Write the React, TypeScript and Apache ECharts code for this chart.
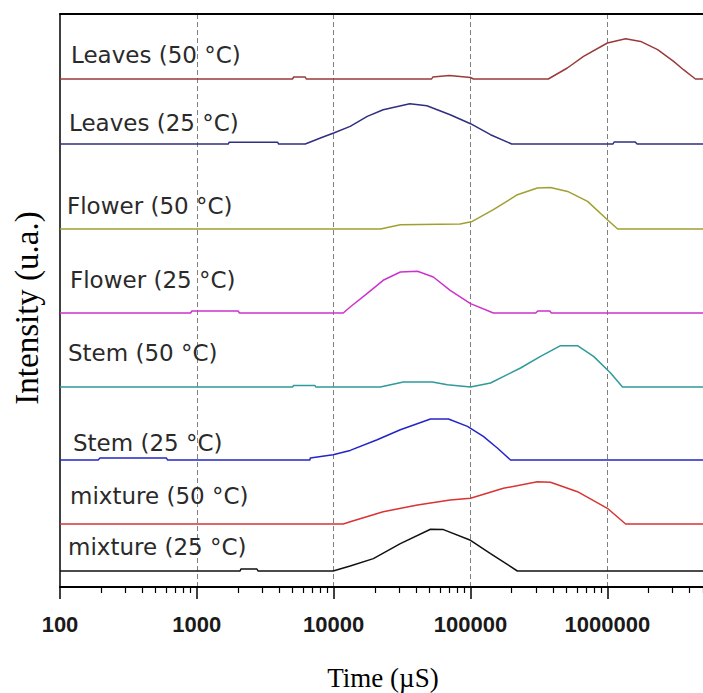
import React, { useEffect, useRef } from "react";
import * as echarts from "echarts";

// Series names (labels shown next to each trace)
const categories = [
  "Leaves (50 °C)",
  "Leaves (25 °C)",
  "Flower (50 °C)",
  "Flower (25 °C)",
  "Stem (50 °C)",
  "Stem (25 °C)",
  "mixture (50 °C)",
  "mixture (25 °C)",
];

// Vertical offset of each trace (arbitrary intensity units)
const offsets = [508, 443, 358, 274, 200, 127, 63, 16];

// Intensity traces: [time (µS), intensity]
const leaves50 = [[100, 0], [5000, 0], [5100, 2], [6200, 2], [6300, 0], [52000, 0], [53000, 2], [70000, 3.5], [100000, 1.5], [105000, 0], [370000, 0], [510000, 11], [670000, 22.6], [1000000, 36], [1360000, 40.3], [1750000, 37.6], [2330000, 29.3], [3050000, 17.6], [3600000, 9.3], [4400000, 0], [5000000, 0]];
const leaves25 = [[100, 0], [1700, 0], [1720, 1.7], [3900, 1.7], [3950, 0], [6200, 0], [8000, 6], [10000, 11], [13200, 17.6], [17600, 27.6], [23000, 34.3], [36000, 40.3], [48000, 38.3], [71000, 29.3], [100000, 20.3], [140000, 9.3], [200000, 0], [1100000, 0], [1120000, 2], [1600000, 2], [1650000, 0], [5000000, 0]];
const flower50 = [[100, 0], [22000, 0], [30700, 4.3], [84000, 5], [103000, 7.6], [147000, 19.3], [220000, 34.3], [308000, 41], [384000, 41.6], [512000, 37.6], [717000, 27.6], [1000000, 9.3], [1190000, 0], [5000000, 0]];
const flower25 = [[100, 0], [900, 0], [920, 2], [2000, 2], [2050, 0], [11750, 0], [13200, 6], [17600, 19.7], [23000, 32.7], [30700, 41], [41000, 41.7], [53500, 36], [71000, 22.7], [100000, 9.4], [147000, 0], [300000, 0], [310000, 2], [380000, 2], [390000, 0], [5000000, 0]];
const stem50 = [[100, 0], [5000, 0], [5100, 1.5], [7300, 1.5], [7400, 0], [21900, 0], [32300, 5], [52600, 5], [67800, 2.3], [100000, 0], [140000, 4], [232000, 19], [325000, 30.6], [455000, 41.3], [605000, 41.3], [793000, 30.6], [1056000, 14], [1290000, 0], [5000000, 0]];
const stem25 = [[100, 0], [190, 0], [196, 2], [600, 2], [610, 0], [6700, 0], [6750, 2], [9900, 5.3], [13200, 9.6], [20800, 20.3], [30700, 30.3], [51000, 41], [69000, 41], [95000, 33.6], [124000, 23.6], [157000, 12], [196000, 0], [5000000, 0]];
const mixture50 = [[100, 0], [11750, 0], [13200, 2.3], [23000, 12.3], [41000, 19], [71000, 24], [100000, 25.7], [174000, 35.7], [308000, 42.3], [384000, 41.7], [605000, 32.3], [1000000, 15.7], [1360000, 0], [5000000, 0]];
const mixture25 = [[100, 0], [2070, 0], [2100, 2], [2750, 2], [2800, 0], [9900, 0], [13200, 5], [19500, 12.4], [30700, 27.4], [51000, 41.7], [63400, 41.4], [100000, 30.7], [140000, 17.4], [220000, 0], [5000000, 0]];

const traces = [leaves50, leaves25, flower50, flower25, stem50, stem25, mixture50, mixture25];

const colors = ["#9B3A3A", "#2F2F80", "#A0A030", "#CC33CC", "#2E9A9A", "#2424C8", "#D93333", "#111111"];

// Label anchor positions (px)
const labelPos = [
  [71, 55],
  [69, 123],
  [67, 206],
  [70, 280],
  [68, 353],
  [73, 443],
  [70, 496],
  [68, 547],
];

const xMin = 100;
const xMax = 5000000;
const majorTicks = [100, 1000, 10000, 100000, 1000000];
const minorTicks: number[] = [];
majorTicks.forEach((d) => {
  for (let k = 2; k <= 9; k++) {
    if (d * k <= xMax) minorTicks.push(d * k);
  }
});

export default function App() {
  const ref = useRef<HTMLDivElement>(null);
  useEffect(() => {
    if (!ref.current) return;
    const chart = echarts.init(ref.current, undefined, { renderer: "svg" });
    const series = traces.map((tr, i) => ({
      name: categories[i],
      type: "line",
      xAxisIndex: 0,
      yAxisIndex: 0,
      showSymbol: false,
      symbol: "none",
      data: tr.map(([x, v]) => [x, offsets[i] + v]),
      lineStyle: { color: colors[i], width: 1.5 },
      itemStyle: { color: colors[i] },
      z: 3,
    }));
    const graphic: any[] = categories.map((c, i) => ({
      type: "text",
      x: labelPos[i][0],
      y: labelPos[i][1],
      z: 10,
      style: {
        text: c,
        font: "23px 'DejaVu Sans'",
        fill: "#2a2a2a",
        textAlign: "left",
        textVerticalAlign: "middle",
      },
    }));
    graphic.push({
      type: "text",
      x: 27,
      y: 308,
      rotation: Math.PI / 2,
      style: {
        text: "Intensity (u.a.)",
        font: "33px 'Liberation Serif'",
        fill: "#000",
        textAlign: "center",
        textVerticalAlign: "middle",
      },
    });
    graphic.push({
      type: "text",
      x: 383,
      y: 678,
      style: {
        text: "Time (µS)",
        font: "27px 'Liberation Serif'",
        fill: "#000",
        textAlign: "center",
        textVerticalAlign: "middle",
      },
    });
    chart.setOption({
      animation: false,
      backgroundColor: "#fff",
      grid: { left: 60, right: 0, top: 14, height: 573 },
      xAxis: [
        {
          type: "log",
          logBase: 10,
          min: xMin,
          max: xMax,
          position: "bottom",
          axisLine: { show: true, lineStyle: { color: "#000", width: 2 } },
          axisTick: { show: true, length: 12, lineStyle: { color: "#000", width: 1.5 } },
          axisLabel: {
            show: true,
            showMaxLabel: false,
            margin: 26,
            fontSize: 22,
            fontWeight: "bold",
            fontFamily: "'Liberation Sans'",
            color: "#1a1a1a",
            formatter: (v: number) => (v > xMax * 0.99 ? "" : String(Math.round(v))),
          },
          splitLine: {
            show: true,
            showMinLine: false,
            showMaxLine: false,
            lineStyle: { color: "#808080", width: 1, type: [5, 3] },
          },
        },
        {
          type: "log",
          logBase: 10,
          min: xMin,
          max: xMax,
          position: "bottom",
          axisLine: { show: false },
          axisTick: { show: true, length: 6, customValues: minorTicks, lineStyle: { color: "#000", width: 1.2 } },
          axisLabel: { show: false },
          splitLine: { show: false },
        },
        {
          type: "value",
          min: 0,
          max: 1,
          position: "top",
          axisLine: { show: true, lineStyle: { color: "#000", width: 2 } },
          axisTick: { show: false },
          axisLabel: { show: false },
          splitLine: { show: false },
        },
      ],
      yAxis: {
        type: "value",
        min: 0,
        max: 573,
        axisLine: { show: true, lineStyle: { color: "#000", width: 1.5 } },
        axisTick: { show: false },
        axisLabel: { show: false },
        splitLine: { show: false },
      },
      series,
      graphic,
    });
    return () => chart.dispose();
  }, []);
  return (
    <div
      ref={ref}
      style={{ position: "absolute", left: 0, top: 0, width: 703, height: 693, background: "#fff" }}
    />
  );
}
